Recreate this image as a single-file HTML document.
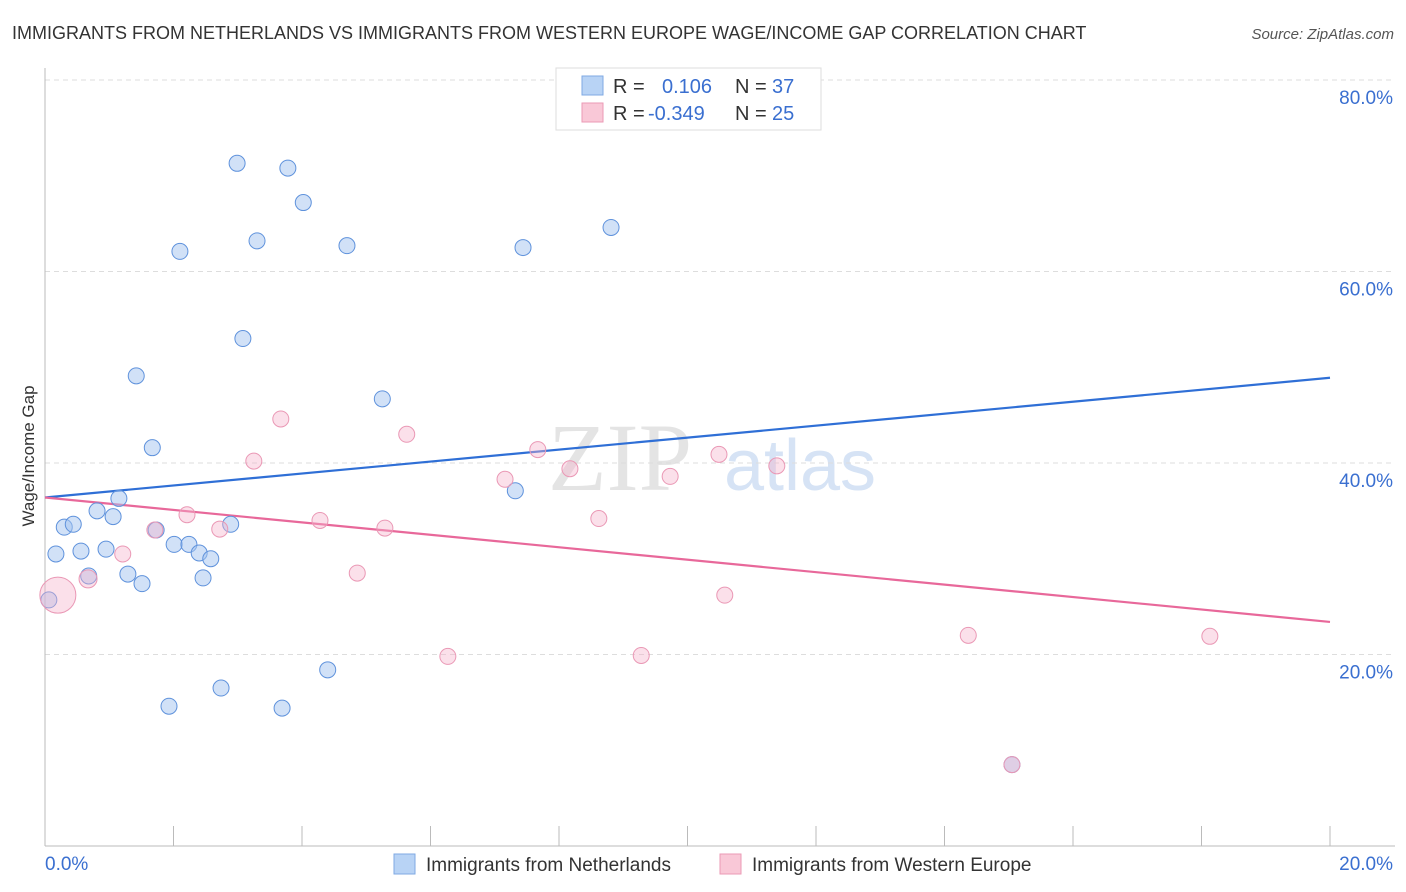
<!DOCTYPE html>
<html><head><meta charset="utf-8"><style>
body{margin:0;background:#fff;font-family:"Liberation Sans",sans-serif;}
svg{display:block}
</style></head><body>
<svg id="chart" width="1406" height="892" xmlns="http://www.w3.org/2000/svg">
<text x="12" y="39" font-size="18" fill="#333">IMMIGRANTS FROM NETHERLANDS VS IMMIGRANTS FROM WESTERN EUROPE WAGE/INCOME GAP CORRELATION CHART</text>
<text x="1394" y="39" font-size="15" fill="#555" font-style="italic" text-anchor="end">Source: ZipAtlas.com</text>
<text transform="translate(34,456) rotate(-90)" font-size="17" fill="#333" text-anchor="middle">Wage/Income Gap</text>
<text x="620" y="490" font-size="96" fill="#e4e4e4" font-family="Liberation Serif,serif" text-anchor="middle">ZIP</text>
<text x="800" y="490" font-size="72" fill="#d6e3f5" text-anchor="middle">atlas</text>
<g id="grid"></g><g id="axes"></g><g id="lines"></g><g id="pts"></g>
<g>
<rect x="556" y="68" width="265" height="62" fill="#fff" stroke="#ddd"/>
<rect x="582" y="76" width="21" height="19" fill="#b8d3f5" stroke="#7fa9e3"/>
<rect x="582" y="103" width="21" height="19" fill="#f9c8d7" stroke="#eb9ab5"/>
<text x="613" y="93" font-size="20" fill="#333">R = </text><text x="662" y="93" font-size="20" fill="#3a6fd0">0.106</text>
<text x="735" y="93" font-size="20" fill="#333">N = </text><text x="772" y="93" font-size="20" fill="#3a6fd0">37</text>
<text x="613" y="120" font-size="20" fill="#333">R = </text><text x="648" y="120" font-size="20" fill="#3a6fd0">-0.349</text>
<text x="735" y="120" font-size="20" fill="#333">N = </text><text x="772" y="120" font-size="20" fill="#3a6fd0">25</text>
</g>
<g>
<rect x="394" y="854" width="21" height="20" fill="#b8d3f5" stroke="#7fa9e3"/>
<text x="426" y="871" font-size="19" fill="#333">Immigrants from Netherlands</text>
<rect x="720" y="854" width="21" height="20" fill="#f9c8d7" stroke="#eb9ab5"/>
<text x="752" y="871" font-size="19" fill="#333">Immigrants from Western Europe</text>
</g>
</svg>
<script>
const blueX=[2.99,3.78,4.02,2.10,3.30,4.70,7.44,8.81,3.08,1.42,5.25,1.67,1.15,0.81,1.06,0.30,0.44,2.89,1.73,2.01,2.24,2.40,2.58,0.95,0.56,0.17,1.29,0.68,1.51,2.46,7.32,0.06,4.40,2.74,1.93,3.69,15.05];
const blueY=[71.3,70.8,67.2,62.1,63.2,62.7,62.5,64.6,53.0,49.1,46.7,41.6,36.3,35.0,34.4,33.3,33.6,33.6,33.0,31.5,31.5,30.6,30.0,31.0,30.8,30.5,28.4,28.2,27.4,28.0,37.1,25.7,18.4,16.5,14.6,14.4,8.5];
const pinkX=[0.20,0.67,1.21,1.71,2.21,2.72,3.25,3.67,4.28,4.86,5.29,5.63,6.27,7.16,7.67,8.17,8.62,9.28,9.73,10.49,10.58,11.39,14.37,18.13,15.05];
const pinkY=[26.2,27.9,30.5,33.0,34.6,33.1,40.2,44.6,34.0,28.5,33.2,43.0,19.8,38.3,41.4,39.4,34.2,19.9,38.6,40.9,26.2,39.7,22.0,21.9,8.5];
const pinkR=[18,9,8,8,8,8,8,8,8,8,8,8,8,8,8,8,8,8,8,8,8,8,8,8,8];
const blueTrend=[36.4,48.9];
const pinkTrend=[36.4,23.4];
const yTicks=[20,40,60,80];
const xTicks=[0,2,4,6,8,10,12,14,16,18,20];
const X0=45,X1=1330,Y0=846,Y80=80;
const sx=v=>X0+(v/20)*(X1-X0);
const sy=v=>Y0-(v/80)*(Y0-Y80);
const NS="http://www.w3.org/2000/svg";
function mk(tag,attrs,parent){const e=document.createElementNS(NS,tag);for(const k in attrs)e.setAttribute(k,attrs[k]);parent.appendChild(e);return e;}
const grid=document.getElementById('grid'),axes=document.getElementById('axes'),lines=document.getElementById('lines'),pts=document.getElementById('pts');
yTicks.forEach(t=>{
 const l=mk('line',{x1:45,x2:1395,y1:sy(t),y2:sy(t),stroke:'#ddd','stroke-dasharray':'5,4'},grid);
 
 
 const tx=mk('text',{x:1393,y:sy(t)+24,'font-size':19,fill:'#3a6fd0','text-anchor':'end'},grid);
 tx.textContent=t.toFixed(1)+'%';
 
 
});
const ya=mk('line',{x1:45,x2:45,y1:68,y2:846,stroke:'#bbb'},axes);


const xa=mk('line',{x1:45,x2:1395,y1:846,y2:846,stroke:'#bbb'},axes);


xTicks.forEach(t=>{
 const l=mk('line',{x1:sx(t),x2:sx(t),y1:826,y2:846,stroke:'#bbb'},axes);
 
 
});
[[0,'start'],[20,'end']].forEach(([t,a])=>{
 const tx=mk('text',{x:t===0?45:1393,y:870,'font-size':19,fill:'#3a6fd0','text-anchor':a},axes);
 tx.textContent=t.toFixed(1)+'%';
 
 
});
blueX.forEach((x,i)=>{
 const c=mk('circle',{cx:sx(x),cy:sy(blueY[i]),r:8,fill:'rgba(164,196,240,0.5)',stroke:'#5f92dc','stroke-width':1},pts);
 
 
});
pinkX.forEach((x,i)=>{
 const c=mk('circle',{cx:sx(x),cy:sy(pinkY[i]),r:pinkR[i],fill:'rgba(246,178,202,0.4)',stroke:'#ea98b5','stroke-width':1},pts);
 
 
});
const bl=mk('line',{x1:sx(0),x2:sx(20),y1:sy(blueTrend[0]),y2:sy(blueTrend[1]),stroke:'#2f6fd6','stroke-width':2.2},lines);


const pl=mk('line',{x1:sx(0),x2:sx(20),y1:sy(pinkTrend[0]),y2:sy(pinkTrend[1]),stroke:'#e8689a','stroke-width':2.2},lines);


</script>
</body></html>
